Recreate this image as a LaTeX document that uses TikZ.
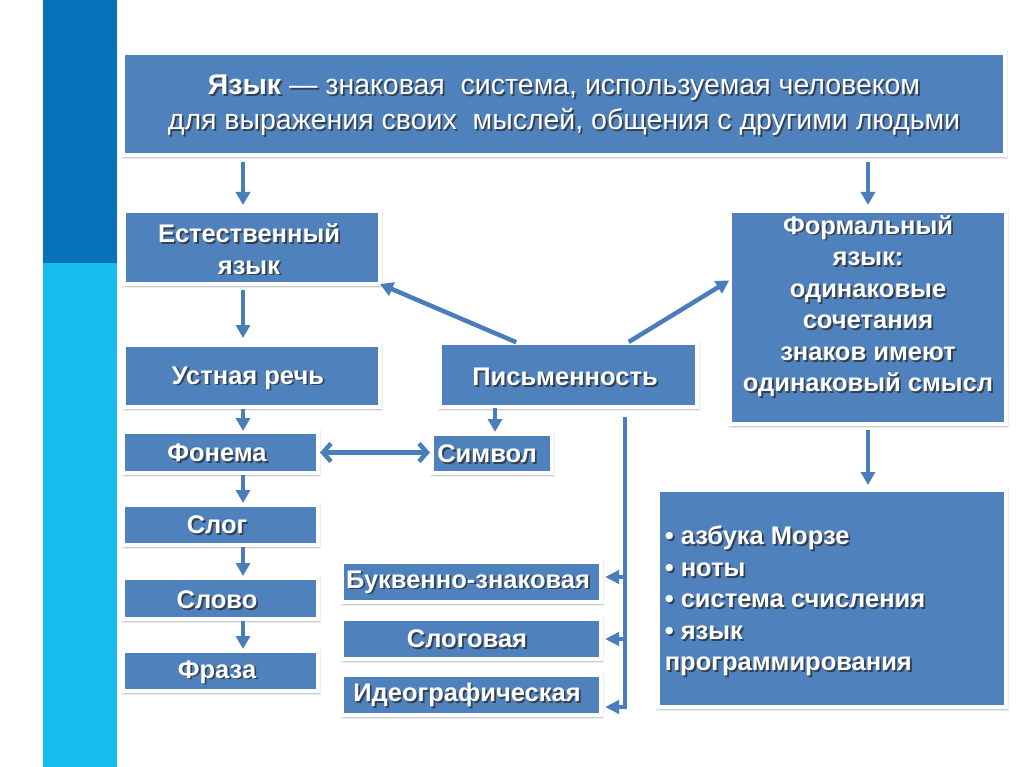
\documentclass[tikz,border=0pt]{standalone}
\usepackage{fontspec}
\setmainfont{Liberation Sans}
\usetikzlibrary{arrows.meta,calc}
\definecolor{boxblue}{HTML}{4F81BD}
\definecolor{arrblue}{HTML}{4A7EBB}
\definecolor{stripdark}{HTML}{0672B9}
\definecolor{stripcyan}{HTML}{14BDEE}
\tikzset{
  bluebox/.style={draw=white, line width=4pt, fill=boxblue, inner sep=0pt, outer sep=0pt},
  boxtext/.style={text=white, font=\bfseries\fontsize{25.5}{31.5}\selectfont, align=center, inner sep=0pt},
  toptext/.style={text=white, font=\fontsize{28.5}{35}\selectfont, align=center, inner sep=0pt},
  arr/.style={draw=arrblue, line width=4.5pt, -{Triangle[length=13pt,width=14pt]}},
  dblarr/.style={draw=arrblue, line width=4.5pt, {Straight Barb[length=8pt,width=18pt]}-{Straight Barb[length=8pt,width=18pt]}},
  sarr/.style={draw=arrblue, line width=3.5pt, -{Triangle[length=14pt,width=13pt]}},
  vline/.style={draw=arrblue, line width=4.5pt}
}
\newcommand\mkbox[9][]{%
 \pgfmathsetmacro\bxw{#5-#3+4}%
 \pgfmathsetmacro\bxh{#6-#4+4}%
 \pgfmathsetmacro\bxx{(#3+#5)/2}%
 \pgfmathsetmacro\bxy{(#4+#6)/2}%
 \fill[black, opacity=.07] (#3-4,#4-4) rectangle (#5+5,#6+6);
 \fill[black, opacity=.14] (#3-1,#4) rectangle (#5+4,#6+5);
 \node[bluebox, minimum width=\bxw pt, minimum height=\bxh pt] (#2) at (\bxx,\bxy) {};
 \node[boxtext,#1,text=black!85,opacity=.7] at ([shift={(1.8pt,-1.8pt)}]#7,#8) {#9};
 \node[boxtext,#1] (#2-t) at (#7,#8) {#9};
}
\begin{document}
\begin{tikzpicture}[x=1pt,y=-1pt]
\useasboundingbox (0,0) rectangle (1024,767);
\fill[white] (0,0) rectangle (1024,767);
% left strip
\fill[stripdark] (43,0) rectangle (117,263);
\fill[stripcyan] (43,263) rectangle (117,767);

% boxes
\mkbox[toptext]{top}{125}{55}{1003}{153}{564}{105}{\textbf{Язык} — знаковая~ система, используемая человеком\\для выражения своих~ мыслей, общения с другими людьми}
\mkbox{est}{126}{213}{378}{282}{249}{249}{Естественный\\язык}
\mkbox{form}{732}{213}{1004}{422}{868}{306}{Формальный\\язык:\\одинаковые\\сочетания\\знаков имеют\\одинаковый смысл}
\mkbox{ustn}{126}{347}{378}{405}{248}{378}{Устная речь}
\mkbox{pis}{442}{345}{695}{405}{565}{377}{Письменность}
\mkbox{fon}{125}{434}{316}{471}{217}{453}{Фонема}
\mkbox{sym}{434}{436}{550}{471}{487}{454}{Символ}
\mkbox{slog}{125}{507}{316}{543}{217}{525}{Слог}
\mkbox{slovo}{125}{580}{316}{617}{217}{600}{Слово}
\mkbox{fraza}{125}{653}{316}{689}{217}{672}{Фраза}
\mkbox{bukv}{344}{564}{599}{600}{468}{582}{Буквенно-знаковая}
\mkbox{slogv}{344}{621}{599}{657}{467}{639}{Слоговая}
\mkbox{ideo}{344}{677}{599}{713}{467}{695}{Идеографическая}
\mkbox[align=left]{br}{660}{492}{1004}{705}{795}{601}{• азбука Морзе\\• ноты\\• система счисления\\• язык\\программирования}

% helper coordinates
\coordinate (cL) at (243,0);
\coordinate (cR) at (868,0);
\coordinate (cS) at (495,0);
\coordinate (d1) at (518,0);
\coordinate (d2) at (627,0);
\coordinate (d3) at (0,280);
\coordinate (vtop) at (625,417);
\coordinate (vbot) at (625,709);
\coordinate (h1) at (625,577);
\coordinate (h2) at (625,639);
\coordinate (h3) at (625,707);

% connectors
\draw[arr, shorten <=7pt, shorten >=6pt] (top.south -| cL) -- (est.north -| cL);
\draw[arr, shorten <=7pt, shorten >=6pt] (top.south -| cR) -- (form.north -| cR);
\draw[arr, shorten <=6pt, shorten >=7pt] (est.south -| cL) -- (ustn.north -| cL);
\draw[arr, shorten <=2pt, shorten >=1pt] (ustn.south -| cL) -- (fon.north -| cL);
\draw[arr, shorten <=2pt, shorten >=2pt] (fon.south -| cL) -- (slog.north -| cL);
\draw[arr, shorten <=2pt, shorten >=2pt] (slog.south -| cL) -- (slovo.north -| cL);
\draw[arr, shorten <=2pt, shorten >=2pt] (slovo.south -| cL) -- (fraza.north -| cL);
\draw[arr, shorten <=1pt, shorten >=2pt] (pis.south -| cS) -- (sym.north -| cS);
\draw[arr, shorten <=6pt, shorten >=5pt] (form.south -| cR) -- (br.north -| cR);
\draw[dblarr, shorten <=2pt, shorten >=2pt] (fon.east) -- (sym.west |- fon.east);
\draw[arr, shorten <=2pt, shorten >=0pt] (pis.north -| d1) -- (est.south east);
\draw[arr, shorten <=2pt, shorten >=1pt] (pis.north -| d2) -- (form.west |- d3);
\draw[vline] (vtop) -- (vbot);
\draw[sarr, shorten >=4pt] (h1) -- (h1 -| bukv.east);
\draw[sarr, shorten >=4pt] (h2) -- (h2 -| slogv.east);
\draw[sarr, shorten >=4pt] (h3) -- (h3 -| ideo.east);
\end{tikzpicture}
\end{document}
